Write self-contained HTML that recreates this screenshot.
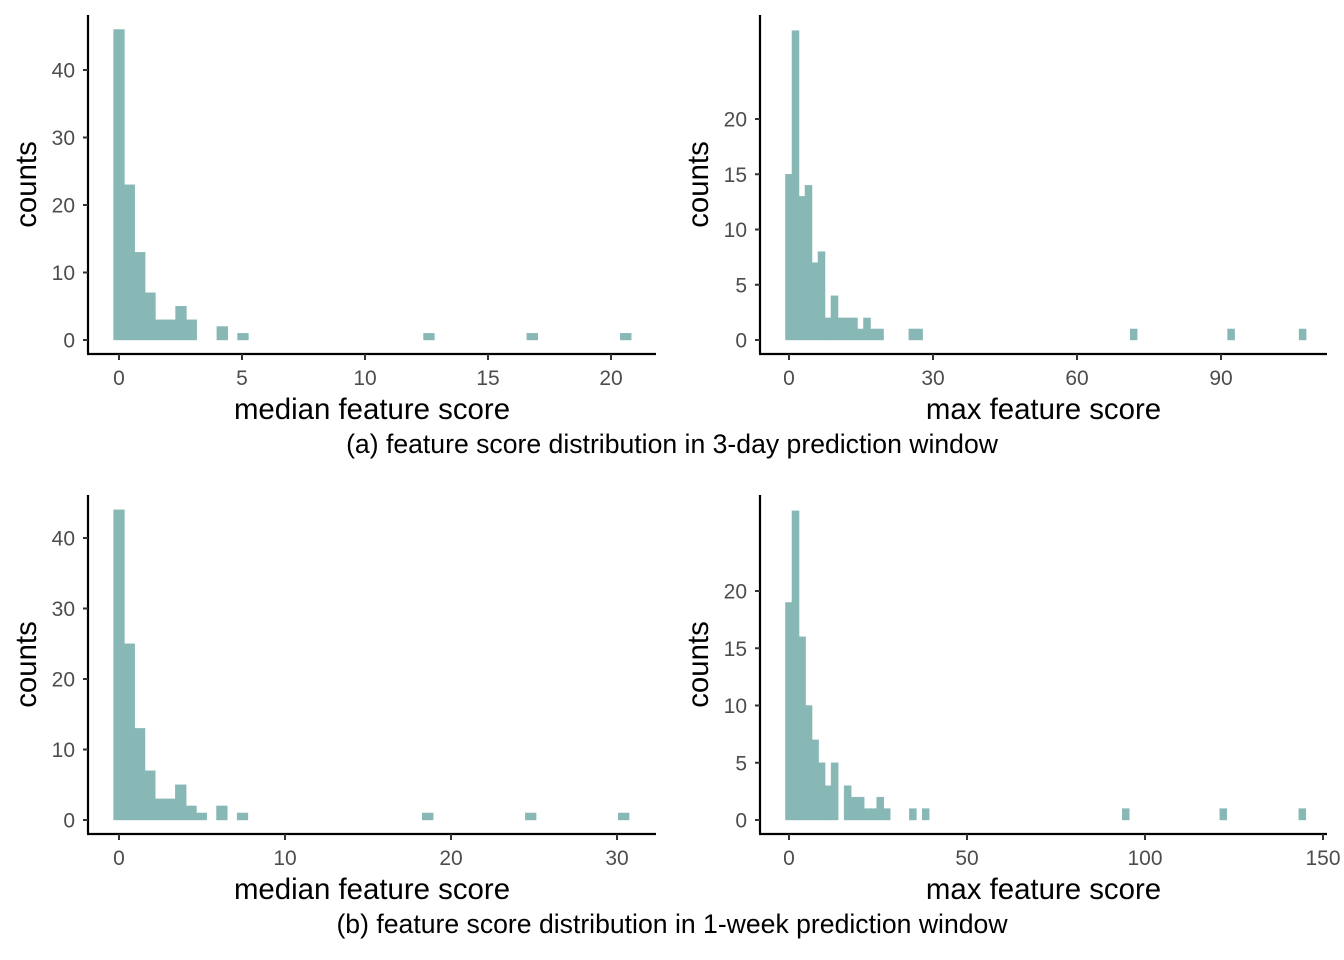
<!DOCTYPE html>
<html><head><meta charset="utf-8"><style>
body{margin:0;background:#fff}
svg{display:block;font-family:"Liberation Sans",Arial,sans-serif}
</style></head><body>
<svg id="c" width="1344" height="960"></svg>
<script>
// panel a-left: median 3-day
const aLeftCenters=[0,0.42,0.84,1.26,1.68,2.1,2.52,2.94,4.2,5.04,12.6,16.8,20.6];
const aLeftCounts=[46,23,13,7,3,3,5,3,2,1,1,1,1];
const aLeftTicksX=[0,5,10,15,20];
const aLeftTicksY=[0,10,20,30,40];
// panel a-right: max 3-day
const aRightCenters=[0,1.354,2.708,4.062,5.416,6.77,8.124,9.478,10.83,12.19,13.54,14.89,16.25,17.6,18.96,25.7,27.1,71.8,92.1,107];
const aRightCounts=[15,28,13,14,7,8,2,4,2,2,2,1,2,1,1,1,1,1,1,1];
const aRightTicksX=[0,30,60,90];
const aRightTicksY=[0,5,10,15,20];
// panel b-left: median 1-week
const bLeftCenters=[0,0.62,1.24,1.86,2.48,3.1,3.72,4.34,4.96,6.2,7.44,18.6,24.8,30.4];
const bLeftCounts=[44,25,13,7,3,3,5,2,1,2,1,1,1,1];
const bLeftTicksX=[0,10,20,30];
const bLeftTicksY=[0,10,20,30,40];
// panel b-right: max 1-week
const bRightCenters=[0,1.83,3.66,5.49,7.32,9.15,10.98,12.81,16.47,18.3,20.13,21.96,23.79,25.62,27.45,34.8,38.4,94.6,122,144.2];
const bRightCounts=[19,27,16,10,7,5,3,5,3,2,2,1,1,2,1,1,1,1,1,1];
const bRightTicksX=[0,50,100,150];
const bRightTicksY=[0,5,10,15,20];

const NS="http://www.w3.org/2000/svg";
const svg=document.getElementById('c');
function mk(tag,attrs,parent){const e=document.createElementNS(NS,tag);for(const k in attrs)e.setAttribute(k,attrs[k]);(parent||svg).appendChild(e);return e;}

function panel(id,cfg,centers,counts,ticksX,ticksY,binW,xtitle){
  const g=mk('g',{});
  
  
  const xs=v=>cfg.x0+v*cfg.kx;
  const ys=v=>cfg.y0-v*cfg.ky;
  for(let i=0;i<centers.length;i++){
    const r=mk('rect',{x:xs(centers[i]-binW/2)-0.3,y:ys(counts[i]),width:binW*cfg.kx+0.6,height:counts[i]*cfg.ky,fill:'#88b8b6',stroke:'#88b8b6','stroke-width':0.4},g);
    
    
  }
  const ax=cfg.axX, ay=cfg.axY;
  const yl=mk('line',{x1:ax,y1:cfg.top,x2:ax,y2:ay,stroke:'#000','stroke-width':2.2},g);
  
  
  const xl=mk('line',{x1:ax-1,y1:ay,x2:cfg.right,y2:ay,stroke:'#000','stroke-width':2.2},g);
  
  
  ticksY.forEach(t=>{
    mk('line',{x1:ax-5,y1:ys(t),x2:ax,y2:ys(t),stroke:'#333','stroke-width':2},g);
    const tx=mk('text',{x:ax-13,y:ys(t)+7.5,'text-anchor':'end','font-size':21,fill:'#4d4d4d'},g);
    tx.textContent=t;
    
    
  });
  ticksX.forEach(t=>{
    mk('line',{x1:xs(t),y1:ay,x2:xs(t),y2:ay+6,stroke:'#333','stroke-width':2},g);
    const tx=mk('text',{x:xs(t),y:ay+31,'text-anchor':'middle','font-size':21,fill:'#4d4d4d'},g);
    tx.textContent=t;
    
    
  });
  const xt=mk('text',{x:(ax+cfg.right)/2,y:ay+65,'text-anchor':'middle','font-size':29.4,fill:'#000'},g);
  xt.textContent=xtitle;
  
  
  const yt=mk('text',{x:0,y:0,'text-anchor':'middle','font-size':29.4,fill:'#000',transform:`translate(${ax-52},${(cfg.top+ay)/2}) rotate(-90)`},g);
  yt.textContent='counts';
  
  
}

panel('median-3day',{x0:119,kx:24.6,y0:340,ky:6.75,axX:88,axY:354,top:15,right:656},aLeftCenters,aLeftCounts,aLeftTicksX,aLeftTicksY,0.42,'median feature score');
panel('max-3day',{x0:789,kx:4.8,y0:340,ky:11.05,axX:760,axY:354,top:15,right:1327},aRightCenters,aRightCounts,aRightTicksX,aRightTicksY,1.354,'max feature score');
panel('median-1week',{x0:119,kx:16.6,y0:820,ky:7.05,axX:88,axY:834,top:495,right:656},bLeftCenters,bLeftCounts,bLeftTicksX,bLeftTicksY,0.62,'median feature score');
panel('max-1week',{x0:789,kx:3.56,y0:820,ky:11.45,axX:760,axY:834,top:495,right:1327},bRightCenters,bRightCounts,bRightTicksX,bRightTicksY,1.83,'max feature score');

const c1=mk('text',{x:672,y:453,'text-anchor':'middle','font-size':26.6,fill:'#000'});
c1.textContent='(a) feature score distribution in 3-day prediction window';


const c2=mk('text',{x:672,y:933,'text-anchor':'middle','font-size':26.6,fill:'#000'});
c2.textContent='(b) feature score distribution in 1-week prediction window';


</script>
</body></html>
